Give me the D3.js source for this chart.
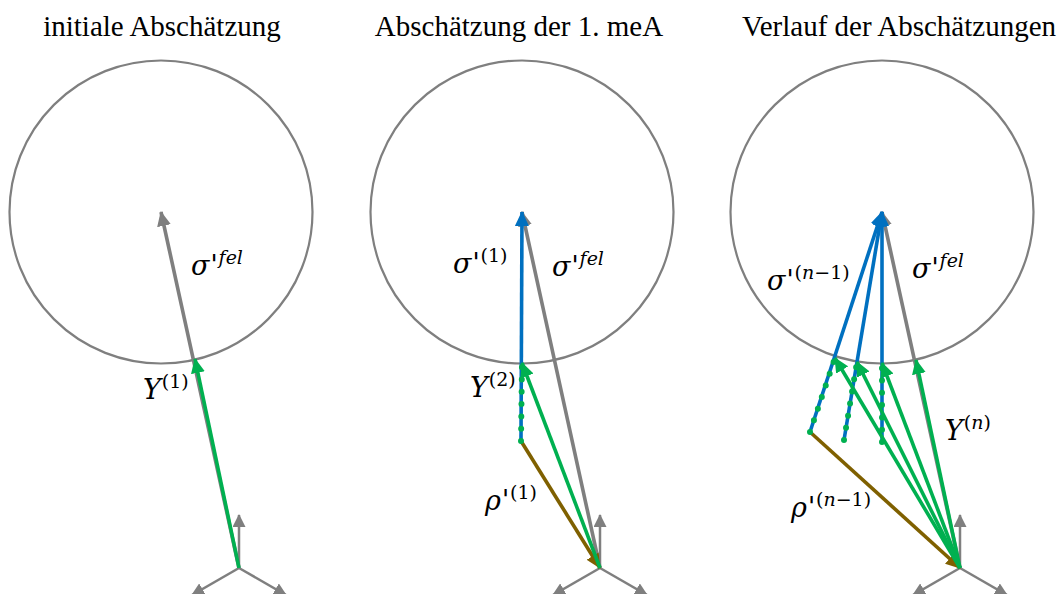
<!DOCTYPE html>
<html>
<head>
<meta charset="utf-8">
<script src="https://cdn.jsdelivr.net/npm/d3@7"></script>
<style>
  body { margin: 0; background: #fff; }
  svg { display: block; }
</style>
</head>
<body>
<div id="chart"></div>
<script>
// --- Data (stress-space units, origin = axis glyph, y up) ---
const panelTitles = ["initiale Abschätzung", "Abschätzung der 1. meA", "Verlauf der Abschätzungen"];

const yieldCenter = [-78, 356];
const yieldRadius = 151.5;

// axis glyph tips
const axisTips = [[0, 53], [-47, -27], [47, -27]];

// vectors per panel: kind, from, to
const panel1Vectors = [
  { kind: "fel", from: [0, 0], to: [-78, 356] },
  { kind: "Y", from: [0, 0], to: [-44, 209] },
];
const panel2Vectors = [
  { kind: "fel", from: [0, 0], to: [-78, 356] },
  { kind: "sigma", from: [-79, 127], to: [-78, 356] },
  { kind: "rho", from: [-79, 127], to: [0, 0] },
  { kind: "Y", from: [0, 0], to: [-78, 205] },
  { kind: "dots", from: [-79, 127], to: [-78, 205] },
];
const panel3Vectors = [
  { kind: "fel", from: [0, 0], to: [-78, 356] },
  { kind: "sigma", from: [-150, 136], to: [-78, 356] },
  { kind: "sigma", from: [-116, 128], to: [-78, 356] },
  { kind: "sigma", from: [-78, 126], to: [-78, 356] },
  { kind: "rho", from: [-150, 136], to: [0, 0] },
  { kind: "Y", from: [0, 0], to: [-125, 210] },
  { kind: "Y", from: [0, 0], to: [-103, 206] },
  { kind: "Y", from: [0, 0], to: [-78, 205] },
  { kind: "Y", from: [0, 0], to: [-44, 208] },
  { kind: "dots", from: [-150, 136], to: [-125, 210] },
  { kind: "dots", from: [-116, 128], to: [-103, 206] },
  { kind: "dots", from: [-78, 126], to: [-78, 205] },
];
const panelVectors = [panel1Vectors, panel2Vectors, panel3Vectors];

// labels: symbol, primed?, superscript
const panel1Labels = [
  { base: "σ", prime: true, sup: "fel" },
  { base: "Y", prime: false, sup: "(1)" },
];
const panel2Labels = [
  { base: "σ", prime: true, sup: "(1)" },
  { base: "σ", prime: true, sup: "fel" },
  { base: "Y", prime: false, sup: "(2)" },
  { base: "ρ", prime: true, sup: "(1)" },
];
const panel3Labels = [
  { base: "σ", prime: true, sup: "(n−1)" },
  { base: "σ", prime: true, sup: "fel" },
  { base: "Y", prime: false, sup: "(n)" },
  { base: "ρ", prime: true, sup: "(n−1)" },
];
const panelLabels = [panel1Labels, panel2Labels, panel3Labels];

// --- Layout ---
const width = 1063, height = 594;
const panelOrigins = [[239, 568], [600, 568], [960, 568]];
const titleCenters = [162, 519, 899];
const titleBaseline = 36;
// label anchors (left, baseline) in stress-space units, per panel
const labelAnchors = [
  [[-48, 293], [-96, 169]],
  [[-147, 295], [-48, 292], [-130, 171], [-115, 58]],
  [[-193, 278], [-48, 290], [-15, 128], [-169, 51]],
];

const colors = {
  fel: "#7f7f7f",
  sigma: "#0070c0",
  rho: "#7f6000",
  Y: "#00b050",
  dots: "#00b050",
  axis: "#7f7f7f",
  circle: "#7f7f7f",
};

const svg = d3.select("#chart").append("svg")
  .attr("width", width)
  .attr("height", height);

// arrowhead markers
const defs = svg.append("defs");
function addMarker(id, color, len, half) {
  defs.append("marker")
    .attr("id", id)
    .attr("markerUnits", "userSpaceOnUse")
    .attr("viewBox", `0 ${-half} ${len} ${half * 2}`)
    .attr("refX", len - 1)
    .attr("refY", 0)
    .attr("markerWidth", len)
    .attr("markerHeight", half * 2)
    .attr("orient", "auto")
    .append("path")
    .attr("d", `M0,${-half}L${len},0L0,${half}Z`)
    .attr("fill", color);
}
addMarker("arr-fel", colors.fel, 15, 7);
addMarker("arr-sigma", colors.sigma, 15, 7);
addMarker("arr-rho", colors.rho, 15, 7);
addMarker("arr-Y", colors.Y, 15, 7);
addMarker("arr-axis", colors.axis, 13, 6.5);

const fontMath = "'DejaVu Serif', serif";

panelOrigins.forEach(([ox, oy], i) => {
  const x = d3.scaleLinear().domain([0, 100]).range([ox, ox + 100]);
  const y = d3.scaleLinear().domain([0, 100]).range([oy, oy - 100]);
  const g = svg.append("g").attr("class", "panel");

  // title
  svg.append("text")
    .attr("x", titleCenters[i])
    .attr("y", titleBaseline)
    .attr("text-anchor", "middle")
    .attr("font-family", "'Liberation Serif', 'Times New Roman', serif")
    .attr("font-size", 29)
    .attr("fill", "#000")
    .text(panelTitles[i]);

  // yield circle
  g.append("circle")
    .attr("cx", x(yieldCenter[0]))
    .attr("cy", y(yieldCenter[1]))
    .attr("r", x(yieldRadius) - x(0))
    .attr("fill", "none")
    .attr("stroke", colors.circle)
    .attr("stroke-width", 2.2);

  // axis glyph
  g.selectAll("line.axis")
    .data(axisTips)
    .join("line")
    .attr("class", "axis")
    .attr("x1", x(0)).attr("y1", y(0))
    .attr("x2", (d) => x(d[0]))
    .attr("y2", (d) => y(d[1]))
    .attr("stroke", colors.axis)
    .attr("stroke-width", 2.5)
    .attr("marker-end", "url(#arr-axis)");

  // vectors
  const vecs = panelVectors[i];
  g.selectAll("line.vec")
    .data(vecs)
    .join("line")
    .attr("class", "vec")
    .attr("x1", (d) => x(d.from[0]))
    .attr("y1", (d) => y(d.from[1]))
    .attr("x2", (d) => x(d.to[0]))
    .attr("y2", (d) => y(d.to[1]))
    .attr("stroke", (d) => colors[d.kind])
    .attr("stroke-width", (d) => (d.kind === "dots" ? 6 : 3.6))
    .attr("stroke-linecap", (d) => (d.kind === "dots" ? "round" : "butt"))
    .attr("stroke-dasharray", (d) => (d.kind === "dots" ? "0 12.3" : null))
    .attr("marker-end", (d) => (d.kind === "dots" ? null : `url(#arr-${d.kind})`));

  // labels
  const labels = panelLabels[i];
  labels.forEach((lab, j) => {
    const [lx, ly] = labelAnchors[i][j];
    const t = g.append("text")
      .attr("x", x(lx))
      .attr("y", y(ly))
      .attr("font-family", fontMath)
      .attr("font-size", 27)
      .attr("font-style", "italic")
      .attr("fill", "#000");
    t.append("tspan").text(lab.base);
    if (lab.prime) {
      t.append("tspan")
        .attr("dy", -1)
        .attr("dx", 1)
        .attr("font-family", "'DejaVu Sans', sans-serif")
        .attr("font-style", "italic")
        .attr("font-size", 26)
        .text("'");
    }
    // superscript: letters italic, digits and brackets upright
    const parts = lab.sup.match(/[a-z]+|[^a-z]+/g);
    parts.forEach((p, k) => {
      const s = t.append("tspan")
        .attr("font-size", 19)
        .attr("font-style", /[a-z]/.test(p) ? "italic" : "normal")
        .text(p);
      if (k === 0) s.attr("dy", lab.prime ? -10 : -11).attr("dx", 1);
    });
  });
});
</script>
</body>
</html>
